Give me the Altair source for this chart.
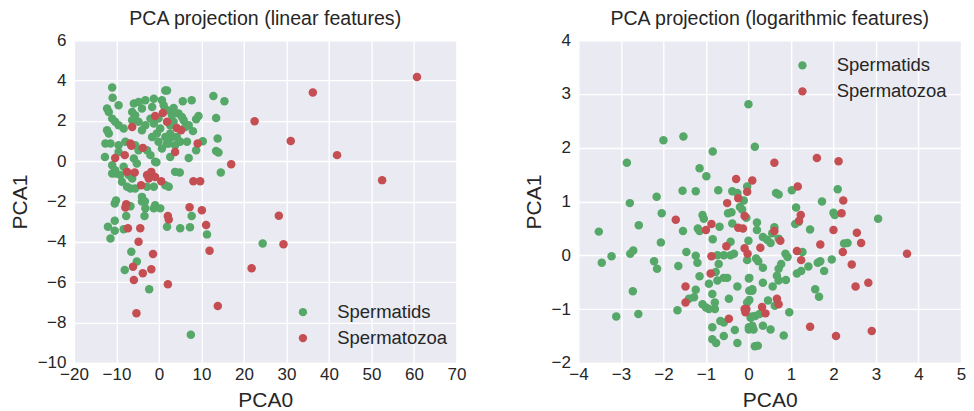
import altair as alt
import pandas as pd

classes = ["Spermatids", "Spermatozoa"]
colors = ["#55A868", "#C44E52"]

# ---- linear features panel ----
lin_spermatids_x = [
    -11.0, -10.9, -9.5, -12.2, -11.8, -5.9, -4.8, -4.0, -3.2, -1.2, -1.6, 1.5, 0.7, 1.1, -6.3, -5.6,
    -11.0, -10.3, -9.5, -12.2, -11.8, -8.3, -6.3, -4.8, -3.2, -4.0, -2.0, -1.2, -0.1, 0.3, -0.5, -1.6,
    1.5, 1.9, -12.6, -11.4, -9.5, -7.9, -9.5, -5.6, -4.8, -2.8, -2.0, -0.1, 0.7, -12.7, -5.9, -5.2,
    -0.9, -0.6, -11.0, -10.3, -9.1, -8.3, -11.0, -10.2, -7.1, -6.3, -8.7, -7.5, -6.7, -2.8, -1.2, 1.5,
    1.9, 5.6, 7.7, 12.8, 15.4, 3.45, 1.9, 3.05, 4.6, 5.4, 5.8, 9.3, 8.75, 13.45, 2.65, 3.45,
    6.2, 7.0, 8.0, 2.65, 3.05, 4.2, 2.3, 3.8, 5.0, 6.6, 10.3, 13.8, 13.45, 14.0, 2.65, 7.0,
    8.75, 3.8, 4.9, 14.55, 2.3, -4.0, -5.6, -10.4, -10.1, -6.7, -4.0, -3.3, -0.9, 0.3, -1.2, -3.2,
    -7.7, -3.4, 7.7, -10.4, -12.0, -10.4, -8.3, -11.4, 1.9, 5.0, 7.3, 11.3, 24.4, -6.5, -5.2, -8.05,
    -2.3, 7.5,
]
lin_spermatids_y = [
    3.65, 3.15, 2.77, 2.61, 2.44, 2.86, 2.94, 2.61, 3.02, 3.10, 2.69, 3.51, 3.02, 2.77, 2.44, 2.28,
    2.11, 1.95, 1.78, 1.53, 1.37, 1.62, 2.03, 1.95, 1.78, 1.53, 2.11, 1.87, 2.11, 1.62, 1.37, 1.20,
    1.20, 0.88, 0.88, 0.88, 0.79, 0.96, 0.46, 0.79, 0.54, 0.54, 0.30, 0.96, 0.63, 0.21, 0.13, -0.12,
    -0.03, -0.05, -0.20, -0.45, -0.69, -0.28, -0.61, -0.61, -0.69, -0.86, -1.02, -1.27, -1.35, -1.27, -1.27, -1.19,
    3.51, 2.97, 3.02, 3.23, 2.97, 2.64, 2.52, 2.28, 2.36, 2.19, 2.03, 2.24, 2.08, 2.14, 1.78, 1.95,
    1.70, 1.78, 1.49, 1.37, 1.20, 1.20, 0.88, 0.79, 0.96, 0.96, 0.99, 1.12, 0.50, 0.43, 0.21, 0.16,
    0.54, -0.53, -0.56, -0.56, -1.27, -1.77, -1.35, -2.10, -1.95, -2.23, -2.00, -2.00, -2.18, -2.34, -2.34, -2.34,
    -2.72, -2.72, -2.72, -2.95, -3.25, -3.45, -3.38, -3.83, -3.25, -3.33, -3.28, -3.63, -4.08, -4.49, -4.98, -5.40,
    -6.35, -8.61,
]
lin_spermatozoa_x = [
    -0.9, 0.9, 1.9, -6.3, -6.7, -6.5, -3.8, -10.3, -8.05, -7.5, -5.7, -2.8, -1.8, -0.9, -2.4, 0.54,
    -4.2, 4.2, 5.2, 9.1, 3.8, 17.0, 8.1, 9.7, 22.5, -7.7, -7.9, 7.2, 10.1, 2.1, 2.3, -7.3,
    -4.4, 11.1, -4.8, -1.4, 11.9, -6.1, -3.8, -1.8, -5.9, 2.1, 21.8, 13.85, -5.3, 60.7, 36.2, 31.0,
    41.9, 52.5, 28.2, 29.3,
]
lin_spermatozoa_y = [
    2.24, 2.39, 1.95, 1.70, 0.88, 0.76, 0.66, 0.16, 0.30, -0.53, -0.56, -0.69, -0.53, -0.78, -0.86, -0.99,
    -1.19, 1.65, 1.53, 0.88, 0.46, -0.15, -0.99, -0.99, 1.98, -2.13, -2.30, -2.29, -2.43, -2.72, -2.89, -3.33,
    -3.33, -3.17, -3.99, -4.60, -4.44, -5.23, -5.56, -5.36, -5.89, -6.10, -5.31, -7.18, -7.54, 4.17, 3.40, 1.00,
    0.30, -0.94, -2.71, -4.12,
]

# ---- logarithmic features panel ----
log_spermatids_x = [
    0.0, -2.0, -1.53, 0.15, -2.86, -0.84, -1.15, -0.99, -1.55, -1.24, -0.71, -2.16, -2.79, -0.38, -0.26, -0.11,
    -0.03, -2.04, -2.58, -3.52, -1.54, -1.08, -1.05, -1.19, -1.15, -0.68, -0.48, -0.40, -0.38, -0.84, -0.42, 0.0,
    -2.06, -0.20, -0.15, -0.05, -3.45, -3.22, -2.78, -2.71, -2.22, -2.15, -2.72, -3.11, -2.59, -1.67, -1.65, -1.46,
    -1.24, -1.20, -1.15, -1.24, -1.28, -1.40, -1.08, -1.0, -0.93, -0.79, -0.93, -0.85, -0.79, -0.77, -0.73, -0.73,
    -0.70, -0.58, -0.58, -0.50, -0.42, -0.34, -0.26, -0.46, -0.66, -0.58, -0.32, -0.58, -0.85, -0.76, -0.26, -0.03,
    0.02, 0.09, -0.03, 0.05, 0.01, 0.12, 0.15, -0.85, 0.65, 0.71, 1.02, 1.12, 1.10, 1.18, 0.20, 0.20,
    1.73, 2.10, 2.0, 2.03, 1.45, 3.05, 2.25, 2.33, 0.34, 0.44, 0.52, 0.71, 0.56, 0.61, 0.87, 0.92,
    1.27, 0.18, 0.23, 0.01, 0.02, 0.09, 0.34, 0.71, 0.77, 0.67, 0.71, 0.88, 0.34, 0.57, 1.14, 1.24,
    1.41, 1.63, 1.69, 1.78, 1.96, 1.57, 1.66, 0.02, 0.46, 0.62, 0.96, 0.09, 0.16, 0.26, 0.01, 0.09,
    0.34, 0.52, 0.83, 0.22,
]
log_spermatids_y = [
    2.81, 2.14, 2.21, 2.02, 1.72, 1.93, 1.62, 1.47, 1.20, 1.19, 1.21, 1.09, 0.97, 1.19, 1.16, 1.02,
    1.28, 0.78, 0.56, 0.44, 0.45, 0.75, 0.68, 0.50, 0.45, 0.53, 0.78, 0.80, 0.59, 0.30, 0.25, 0.27,
    0.24, 0.90, 0.85, 0.70, -0.14, -0.02, 0.03, 0.09, -0.11, -0.25, -0.67, -1.14, -1.09, -1.02, -0.20, 0.06,
    -0.01, -0.14, -0.39, -0.64, -0.78, -0.81, -0.91, -0.97, -1.0, -1.0, -0.53, -0.72, -0.88, -0.31, -0.47, 0.0,
    -0.16, 0.0, -0.42, -0.42, 0.0, 0.03, -0.58, -0.81, -1.22, -1.25, -1.39, -1.50, -1.56, -1.63, -1.63, -0.88,
    -0.42, -0.66, -0.09, -1.16, -1.38, -1.38, -1.69, -1.34, 1.16, 1.13, 1.21, 0.89, 0.58, 0.62, 0.61, 0.47,
    1.0, 1.23, 0.79, 0.75, 0.48, 0.68, 0.22, 0.23, 0.34, 0.29, 0.23, 0.31, 0.41, 0.52, 0.03, -0.03,
    0.06, -0.06, -0.11, -0.43, -0.66, -0.63, -0.23, -0.25, -0.16, -0.38, -0.47, -0.46, -0.51, -0.58, -0.34, -0.29,
    -0.21, -0.14, -0.11, -0.29, -0.08, -0.63, -0.77, -0.83, -0.84, -0.94, -1.06, -1.14, -1.13, -1.09, -1.34, -1.31,
    -1.31, -1.38, -1.49, -1.68,
]
log_spermatozoa_x = [
    -0.29, 0.09, -0.03, -0.24, -0.50, -1.71, -0.87, -1.0, -0.09, -0.24, -0.13, -0.52, -0.09, -0.02, -0.87, -0.89,
    -1.48, -1.48, -0.46, -0.09, -0.07, 1.61, 2.12, 0.61, 1.16, 2.23, 2.19, 1.23, 1.19, 0.61, 0.75, 2.0,
    2.55, 2.65, 1.69, 0.28, 1.14, 3.73, 1.24, 2.22, 2.43, 2.82, 2.52, 0.67, 0.71, 0.32, 0.40, -0.05,
    1.45, 2.06, 2.90,
]
log_spermatozoa_y = [
    1.42, 1.39, 1.18, 1.06, 0.97, 0.66, 0.58, 0.47, 0.73, 0.51, 0.50, 0.17, 0.13, 0.03, -0.02, -0.34,
    -0.58, -0.88, -1.18, -1.0, -1.06, 1.81, 1.75, 1.72, 1.28, 1.02, 0.78, 0.75, 0.64, 0.45, 0.27, 0.47,
    0.42, 0.23, 0.20, 0.14, 0.08, 0.03, -0.09, 0.06, -0.17, -0.51, -0.58, -0.81, -0.91, -0.96, -1.08, -1.0,
    -1.33, -1.50, -1.41,
]

lin_x_ticks = [-20, -10, 0, 10, 20, 30, 40, 50, 60, 70]
lin_y_ticks = [-10, -8, -6, -4, -2, 0, 2, 4, 6]
log_x_ticks = [-4, -3, -2, -1, 0, 1, 2, 3, 4, 5]
log_y_ticks = [-2, -1, 0, 1, 2, 3, 4]

FONT = "Liberation Sans"
TEXT = "#262626"


def frame(gx, gy, rx, ry):
    return pd.DataFrame({
        "x": list(gx) + list(rx),
        "y": list(gy) + list(ry),
        "cls": [classes[0]] * len(gx) + [classes[1]] * len(rx),
        "k": list(range(len(gx) + len(rx))),
    })


def panel(df, title, xticks, yticks, lx, ly):
    return alt.Chart(df, title=alt.Title(title, fontSize=19.6, font=FONT, fontWeight="normal",
                                         color=TEXT, offset=2)).mark_circle(
        size=72, opacity=1
    ).encode(
        x=alt.X("x:Q", title="PCA0",
                scale=alt.Scale(domain=[xticks[0], xticks[-1]], nice=False, zero=False),
                axis=alt.Axis(values=xticks, labelPadding=4, titlePadding=7, labelFlush=False)),
        y=alt.Y("y:Q", title="PCA1",
                scale=alt.Scale(domain=[yticks[0], yticks[-1]], nice=False, zero=False),
                axis=alt.Axis(values=yticks, labelPadding=8, titlePadding=7, labelFlush=False)),
        color=alt.Color("cls:N", scale=alt.Scale(domain=classes, range=colors),
                        legend=alt.Legend(title=None, orient="none", legendX=lx, legendY=ly,
                                          symbolType="circle", symbolSize=70, symbolOpacity=1,
                                          labelFontSize=18.5, labelFont=FONT, labelColor=TEXT,
                                          labelOffset=25, rowPadding=7, padding=0)),
        order=alt.Order("k:Q"),
    ).properties(width=383, height=323)


left = panel(frame(lin_spermatids_x, lin_spermatids_y, lin_spermatozoa_x, lin_spermatozoa_y),
             "PCA projection (linear features)", lin_x_ticks, lin_y_ticks, 220, 263)
right = panel(frame(log_spermatids_x, log_spermatids_y, log_spermatozoa_x, log_spermatozoa_y),
              "PCA projection (logarithmic features)", log_x_ticks, log_y_ticks, 215, 16)

chart = alt.hconcat(left, right, spacing=56).resolve_scale(color="independent").resolve_legend(
    color="independent"
).configure_view(fill="#EAEAF2", strokeWidth=0).configure_axis(
    grid=True, gridColor="white", gridWidth=1.4, domain=False, ticks=False,
    labelFont=FONT, labelFontSize=17, labelColor=TEXT,
    titleFont=FONT, titleFontSize=21, titleFontWeight="normal", titleColor=TEXT,
).properties(padding={"left": 1, "top": 0, "right": 0, "bottom": 0})

chart.save("out.html", embed_options={"renderer": "svg", "actions": False})
